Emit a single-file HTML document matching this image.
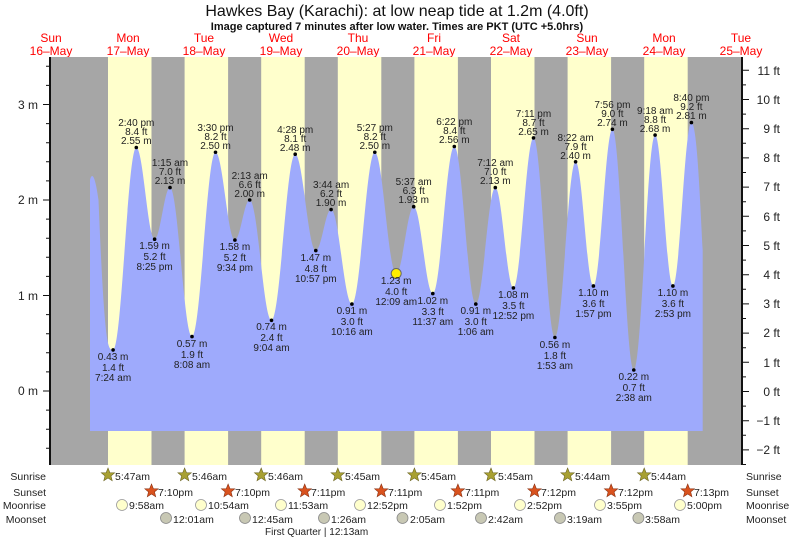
<!DOCTYPE html>
<html><head><meta charset="utf-8"><style>
html,body{margin:0;padding:0;background:#fff;}
svg{display:block;font-family:"Liberation Sans",Arial,sans-serif;}
.t{font-size:10px;fill:#222;text-anchor:middle;}
.r{font-size:10.5px;fill:#222;}
</style></head><body>
<svg width="793" height="539" viewBox="0 0 793 539" xmlns="http://www.w3.org/2000/svg">
<rect width="793" height="539" fill="#fff"/>
<text x="397" y="16" font-size="16" text-anchor="middle" fill="#111">Hawkes Bay (Karachi): at low  neap tide at 1.2m (4.0ft)</text>
<text x="397" y="30" font-size="11" font-weight="bold" text-anchor="middle" fill="#111">Image captured 7 minutes after low water. Times are PKT (UTC +5.0hrs)</text>
<g font-size="12" fill="#f00" text-anchor="middle">
<text x="51" y="42">Sun</text><text x="51" y="55">16–May</text>
<text x="128" y="42">Mon</text><text x="128" y="55">17–May</text>
<text x="204" y="42">Tue</text><text x="204" y="55">18–May</text>
<text x="281" y="42">Wed</text><text x="281" y="55">19–May</text>
<text x="358" y="42">Thu</text><text x="358" y="55">20–May</text>
<text x="434" y="42">Fri</text><text x="434" y="55">21–May</text>
<text x="511" y="42">Sat</text><text x="511" y="55">22–May</text>
<text x="587" y="42">Sun</text><text x="587" y="55">23–May</text>
<text x="664" y="42">Mon</text><text x="664" y="55">24–May</text>
<text x="741" y="42">Tue</text><text x="741" y="55">25–May</text>
</g>
<rect x="50" y="57" width="692" height="408" fill="#a6a6a6"/>
<g fill="#ffffcc">
<rect x="108" y="57" width="43.5" height="408"/>
<rect x="184.6" y="57" width="43.5" height="408"/>
<rect x="261.2" y="57" width="43.5" height="408"/>
<rect x="337.8" y="57" width="43.5" height="408"/>
<rect x="414.4" y="57" width="43.5" height="408"/>
<rect x="491" y="57" width="43.5" height="408"/>
<rect x="567.6" y="57" width="43.5" height="408"/>
<rect x="644.2" y="57" width="43.5" height="408"/>
</g>
<path fill="#9eaafc" d="M90,431 L90,180 C92,172 95,175 98.5,200 C104.6,349.9 108,349.9 113.1,349.9
C121.7,349.9 127.7,147.5 136.3,147.5 C143.1,147.5 147.8,239.2 154.6,239.2 C160.3,239.2 164.3,187.6 170,187.6
C178.1,187.6 183.9,336.6 192,336.6 C200.7,336.6 206.8,152.25 215.5,152.25 C222.7,152.25 227.7,240.1 234.9,240.1
C240.4,240.1 244.2,200 249.7,200 C257.8,200 263.4,320.3 271.5,320.3 C280.3,320.3 286.4,154.2 295.2,154.2
C302.8,154.2 308.2,250.6 315.8,250.6 C321.5,250.6 325.4,209.55 331.1,209.55 C338.8,209.55 344.2,304.1 351.9,304.1
C360.4,304.1 366.3,152.25 374.8,152.25 C382.7,152.25 388.3,273.5 396.2,273.5 C402.7,273.5 407.2,206.7 413.7,206.7
C420.8,206.7 425.7,293.6 432.8,293.6 C440.8,293.6 446.3,146.5 454.3,146.5 C462.3,146.5 467.8,304.1 475.8,304.1
C483,304.1 488.1,187.6 495.3,187.6 C502,187.6 506.7,287.9 513.4,287.9 C520.8,287.9 526.1,137.9 533.5,137.9
C541.4,137.9 547,337.5 554.9,337.5 C562.6,337.5 567.9,161.8 575.6,161.8 C582.2,161.8 586.8,285.95 593.4,285.95
C600.4,285.95 605.4,129.3 612.4,129.3 C620.3,129.3 625.9,370 633.8,370 C641.7,370 647.2,135.1 655.1,135.1
C661.7,135.1 666.3,285.95 672.9,285.95 C679.7,285.95 684.6,122.6 691.4,122.6 C697,122.6 700,200 702.7,250
L702.7,431 Z"/>
<g stroke="#111" stroke-width="1" fill="none">
<path d="M50,57 V465 M742,57 V465" stroke-width="2"/>
<path d="M43,104.5 h7 M43,200 h7 M43,295.5 h7 M43,391 h7"/>
<path d="M46,448.3h4M46,429.2h4M46,410.1h4M46,371.9h4M46,352.8h4M46,333.7h4M46,314.6h4M46,276.4h4M46,257.3h4M46,238.2h4M46,219.1h4M46,180.9h4M46,161.8h4M46,142.7h4M46,123.6h4M46,85.4h4M46,66.3h4"/>
<path d="M742,449.9h7M742,420.7h7M742,391.5h7M742,362.3h7M742,333.1h7M742,303.9h7M742,274.7h7M742,245.5h7M742,216.3h7M742,187.1h7M742,157.9h7M742,128.7h7M742,99.5h7M742,70.3h7"/>
<path d="M742,464.5h4M742,435.3h4M742,406.1h4M742,376.9h4M742,347.7h4M742,318.5h4M742,289.3h4M742,260.1h4M742,230.9h4M742,201.7h4M742,172.5h4M742,143.3h4M742,114.1h4M742,84.9h4"/>
</g>
<g font-size="12" fill="#222" text-anchor="end">
<text x="38" y="109">3 m</text><text x="38" y="204">2 m</text><text x="38" y="300">1 m</text><text x="38" y="395">0 m</text>
</g>
<g font-size="12" fill="#222" text-anchor="end">
<text x="780" y="454">−2 ft</text><text x="780" y="425">−1 ft</text><text x="780" y="396">0 ft</text><text x="780" y="367">1 ft</text>
<text x="780" y="337">2 ft</text><text x="780" y="308">3 ft</text><text x="780" y="279">4 ft</text><text x="780" y="250">5 ft</text>
<text x="780" y="221">6 ft</text><text x="780" y="191">7 ft</text><text x="780" y="162">8 ft</text><text x="780" y="133">9 ft</text>
<text x="780" y="104">10 ft</text><text x="780" y="75">11 ft</text>
</g>
<g fill="#000">
<circle cx="113.1" cy="349.9" r="1.8"/><circle cx="136.3" cy="147.5" r="1.8"/><circle cx="154.6" cy="239.2" r="1.8"/>
<circle cx="170" cy="187.6" r="1.8"/><circle cx="192" cy="336.6" r="1.8"/><circle cx="215.5" cy="152.25" r="1.8"/>
<circle cx="234.9" cy="240.1" r="1.8"/><circle cx="249.7" cy="200" r="1.8"/><circle cx="271.5" cy="320.3" r="1.8"/>
<circle cx="295.2" cy="154.2" r="1.8"/><circle cx="315.8" cy="250.6" r="1.8"/><circle cx="331.1" cy="209.55" r="1.8"/>
<circle cx="351.9" cy="304.1" r="1.8"/><circle cx="374.8" cy="152.25" r="1.8"/><circle cx="413.7" cy="206.7" r="1.8"/>
<circle cx="432.8" cy="293.6" r="1.8"/><circle cx="454.3" cy="146.5" r="1.8"/><circle cx="475.8" cy="304.1" r="1.8"/>
<circle cx="495.3" cy="187.6" r="1.8"/><circle cx="513.4" cy="287.9" r="1.8"/><circle cx="533.5" cy="137.9" r="1.8"/>
<circle cx="554.9" cy="337.5" r="1.8"/><circle cx="575.6" cy="161.8" r="1.8"/><circle cx="593.4" cy="285.95" r="1.8"/>
<circle cx="612.4" cy="129.3" r="1.8"/><circle cx="633.8" cy="370" r="1.8"/><circle cx="655.1" cy="135.1" r="1.8"/>
<circle cx="672.9" cy="285.95" r="1.8"/><circle cx="691.4" cy="122.6" r="1.8"/>
</g>
<circle cx="396.2" cy="273.5" r="5" fill="#ffee00" stroke="#666" stroke-width="1"/>
<g class="t">
<!-- lows -->
<text x="113.1" y="360">0.43 m</text><text x="113.1" y="371">1.4 ft</text><text x="113.1" y="381">7:24 am</text>
<text x="154.6" y="249">1.59 m</text><text x="154.6" y="260">5.2 ft</text><text x="154.6" y="270">8:25 pm</text>
<text x="192" y="347">0.57 m</text><text x="192" y="358">1.9 ft</text><text x="192" y="368">8:08 am</text>
<text x="234.9" y="250">1.58 m</text><text x="234.9" y="261">5.2 ft</text><text x="234.9" y="271">9:34 pm</text>
<text x="271.5" y="330">0.74 m</text><text x="271.5" y="341">2.4 ft</text><text x="271.5" y="351">9:04 am</text>
<text x="315.8" y="261">1.47 m</text><text x="315.8" y="272">4.8 ft</text><text x="315.8" y="282">10:57 pm</text>
<text x="351.9" y="314">0.91 m</text><text x="351.9" y="325">3.0 ft</text><text x="351.9" y="335">10:16 am</text>
<text x="396.2" y="284">1.23 m</text><text x="396.2" y="295">4.0 ft</text><text x="396.2" y="305">12:09 am</text>
<text x="432.8" y="304">1.02 m</text><text x="432.8" y="315">3.3 ft</text><text x="432.8" y="325">11:37 am</text>
<text x="475.8" y="314">0.91 m</text><text x="475.8" y="325">3.0 ft</text><text x="475.8" y="335">1:06 am</text>
<text x="513.4" y="298">1.08 m</text><text x="513.4" y="309">3.5 ft</text><text x="513.4" y="319">12:52 pm</text>
<text x="554.9" y="348">0.56 m</text><text x="554.9" y="359">1.8 ft</text><text x="554.9" y="369">1:53 am</text>
<text x="593.4" y="296">1.10 m</text><text x="593.4" y="307">3.6 ft</text><text x="593.4" y="317">1:57 pm</text>
<text x="633.8" y="380">0.22 m</text><text x="633.8" y="391">0.7 ft</text><text x="633.8" y="401">2:38 am</text>
<text x="672.9" y="296">1.10 m</text><text x="672.9" y="307">3.6 ft</text><text x="672.9" y="317">2:53 pm</text>
<!-- highs -->
<text x="136.3" y="126">2:40 pm</text><text x="136.3" y="135">8.4 ft</text><text x="136.3" y="144">2.55 m</text>
<text x="170" y="166">1:15 am</text><text x="170" y="175">7.0 ft</text><text x="170" y="184">2.13 m</text>
<text x="215.5" y="131">3:30 pm</text><text x="215.5" y="140">8.2 ft</text><text x="215.5" y="149">2.50 m</text>
<text x="249.7" y="179">2:13 am</text><text x="249.7" y="188">6.6 ft</text><text x="249.7" y="197">2.00 m</text>
<text x="295.2" y="133">4:28 pm</text><text x="295.2" y="142">8.1 ft</text><text x="295.2" y="151">2.48 m</text>
<text x="331.1" y="188">3:44 am</text><text x="331.1" y="197">6.2 ft</text><text x="331.1" y="206">1.90 m</text>
<text x="374.8" y="131">5:27 pm</text><text x="374.8" y="140">8.2 ft</text><text x="374.8" y="149">2.50 m</text>
<text x="413.7" y="185">5:37 am</text><text x="413.7" y="194">6.3 ft</text><text x="413.7" y="203">1.93 m</text>
<text x="454.3" y="125">6:22 pm</text><text x="454.3" y="134">8.4 ft</text><text x="454.3" y="143">2.56 m</text>
<text x="495.3" y="166">7:12 am</text><text x="495.3" y="175">7.0 ft</text><text x="495.3" y="184">2.13 m</text>
<text x="533.5" y="117">7:11 pm</text><text x="533.5" y="126">8.7 ft</text><text x="533.5" y="135">2.65 m</text>
<text x="575.6" y="141">8:22 am</text><text x="575.6" y="150">7.9 ft</text><text x="575.6" y="159">2.40 m</text>
<text x="612.4" y="108">7:56 pm</text><text x="612.4" y="117">9.0 ft</text><text x="612.4" y="126">2.74 m</text>
<text x="655.1" y="114">9:18 am</text><text x="655.1" y="123">8.8 ft</text><text x="655.1" y="132">2.68 m</text>
<text x="691.4" y="101">8:40 pm</text><text x="691.4" y="110">9.2 ft</text><text x="691.4" y="119">2.81 m</text>
</g>
<defs>
<polygon id="st" points="0,-7 1.9,-2.3 6.7,-2.2 3,0.9 4.2,5.7 0,3 -4.2,5.7 -3,0.9 -6.7,-2.2 -1.9,-2.3"/>
</defs>
<g class="r" text-anchor="end">
<text x="46" y="480">Sunrise</text><text x="46" y="496">Sunset</text><text x="46" y="509">Moonrise</text><text x="46" y="523">Moonset</text>
</g>
<g class="r">
<text x="746" y="480">Sunrise</text><text x="746" y="496">Sunset</text><text x="746" y="509">Moonrise</text><text x="746" y="523">Moonset</text>
</g>
<g fill="#a8a032" stroke="#6b6420" stroke-width="0.6">
<use href="#st" x="108" y="475"/><use href="#st" x="184.6" y="475"/><use href="#st" x="261.2" y="475"/><use href="#st" x="337.8" y="475"/>
<use href="#st" x="414.4" y="475"/><use href="#st" x="491" y="475"/><use href="#st" x="567.6" y="475"/><use href="#st" x="644.2" y="475"/>
</g>
<g fill="#d9521e" stroke="#8a3010" stroke-width="0.6">
<use href="#st" x="151.5" y="491"/><use href="#st" x="228.1" y="491"/><use href="#st" x="304.7" y="491"/><use href="#st" x="381.3" y="491"/>
<use href="#st" x="457.9" y="491"/><use href="#st" x="534.5" y="491"/><use href="#st" x="611.1" y="491"/><use href="#st" x="687.7" y="491"/>
</g>
<g class="r">
<text x="115" y="480">5:47am</text><text x="192" y="480">5:46am</text><text x="268" y="480">5:46am</text><text x="345" y="480">5:45am</text>
<text x="421" y="480">5:45am</text><text x="498" y="480">5:45am</text><text x="575" y="480">5:44am</text><text x="651" y="480">5:44am</text>
<text x="158" y="496">7:10pm</text><text x="235" y="496">7:10pm</text><text x="311" y="496">7:11pm</text><text x="388" y="496">7:11pm</text>
<text x="465" y="496">7:11pm</text><text x="541" y="496">7:12pm</text><text x="618" y="496">7:12pm</text><text x="694" y="496">7:13pm</text>
</g>
<g fill="#ffffcc" stroke="#999" stroke-width="0.8">
<circle cx="122" cy="505" r="5.5"/><circle cx="201" cy="505" r="5.5"/><circle cx="281" cy="505" r="5.5"/><circle cx="360" cy="505" r="5.5"/>
<circle cx="440" cy="505" r="5.5"/><circle cx="520" cy="505" r="5.5"/><circle cx="600" cy="505" r="5.5"/><circle cx="680" cy="505" r="5.5"/>
</g>
<g fill="#c8c8b4" stroke="#888" stroke-width="0.8">
<circle cx="166" cy="518" r="5.5"/><circle cx="245" cy="518" r="5.5"/><circle cx="324" cy="518" r="5.5"/><circle cx="402.5" cy="518" r="5.5"/>
<circle cx="481" cy="518" r="5.5"/><circle cx="560" cy="518" r="5.5"/><circle cx="638.4" cy="518" r="5.5"/>
</g>
<g class="r">
<text x="129" y="509">9:58am</text><text x="208" y="509">10:54am</text><text x="288" y="509">11:53am</text><text x="367" y="509">12:52pm</text>
<text x="447" y="509">1:52pm</text><text x="527" y="509">2:52pm</text><text x="607" y="509">3:55pm</text><text x="687" y="509">5:00pm</text>
<text x="173" y="523">12:01am</text><text x="252" y="523">12:45am</text><text x="331" y="523">1:26am</text><text x="410" y="523">2:05am</text>
<text x="488" y="523">2:42am</text><text x="567" y="523">3:19am</text><text x="645" y="523">3:58am</text>
<text x="265" y="535" font-size="10">First Quarter | 12:13am</text>
</g>
</svg>
</body></html>
